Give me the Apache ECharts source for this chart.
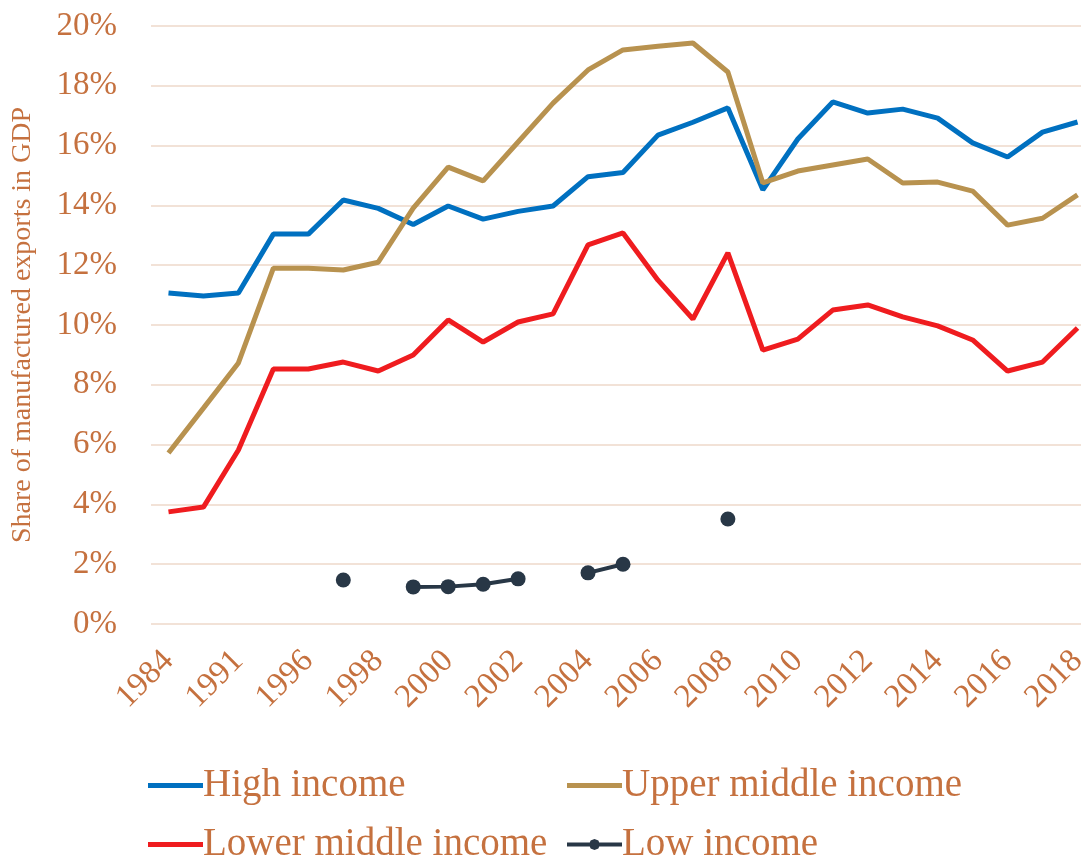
<!DOCTYPE html>
<html lang="en">

<head>
    <meta charset="UTF-8">
    <title>Manufactured exports share</title>
    <style>
        * {
            margin: 0;
        }

        html,
        body,
        #chart {
            width: 100%;
            height: 100%;
            background: #fff;
        }
    </style>
</head>

<body>
    <div id="chart"></div>
    <script src="https://cdn.jsdelivr.net/npm/echarts@6/dist/echarts.min.js"></script>
    <script>
        var years = ['1984', '1988', '1991', '1994', '1996', '1997', '1998', '1999', '2000', '2001', '2002', '2003',
            '2004', '2005', '2006', '2007', '2008', '2009', '2010', '2011', '2012', '2013', '2014', '2015',
            '2016', '2017', '2018'];
        var highIncome = [11.07, 10.97, 11.07, 13.04, 13.04, 14.18, 13.9, 13.36, 13.98, 13.54, 13.8, 13.98,
            14.96, 15.1, 16.35, 16.78, 17.26, 14.52, 16.22, 17.46, 17.09, 17.22, 16.92, 16.09,
            15.62, 16.45, 16.79];
        var upperMiddle = [5.72, 7.22, 8.73, 11.9, 11.9, 11.84, 12.1, 13.91, 15.28, 14.82, 16.12, 17.42,
            18.53, 19.2, 19.32, 19.43, 18.46, 14.75, 15.15, 15.35, 15.55, 14.75, 14.78, 14.48,
            13.34, 13.57, 14.35];
        var lowerMiddle = [3.75, 3.91, 5.82, 8.53, 8.53, 8.76, 8.46, 9.0, 10.17, 9.43, 10.1, 10.37,
            12.68, 13.08, 11.5, 10.2, 12.41, 9.16, 9.53, 10.5, 10.67, 10.27, 9.97, 9.5,
            8.46, 8.76, 9.9];
        var lowIncome = [null, null, null, null, null, 1.47, null, 1.24, 1.25, 1.33, 1.51, null,
            1.71, 2.0, null, null, 3.51, null, null, null, null, null, null, null,
            null, null, null];
        var yTicks = { min: 0, max: 20, step: 2 };

        var txt = '#C5713F';
        var font = "'Liberation Serif', 'DejaVu Serif', serif";
        var barIcon = 'path://M0,0h55v5h-55z';
        // line with a small dot in the middle (octagon, same winding as the bar)
        var dotIcon = 'path://M0,4h55v4h-55z M27.5,0.5L31.4,2.1L33,6L31.4,9.9L27.5,11.5L23.6,9.9L22,6L23.6,2.1z';
        var chart = echarts.init(document.getElementById('chart'));

        function lineSeries(name, data, color) {
            return {
                name: name,
                type: 'line',
                data: data,
                symbol: 'none',
                lineStyle: { color: color, width: 5 },
                itemStyle: { color: color }
            };
        }

        option = {
            animation: false,
            grid: { left: 151, width: 944, top: 26, height: 598, outerBoundsMode: 'none', containLabel: false },
            legend: {
                left: 143,
                top: 755,
                width: 900,
                itemWidth: 55,
                itemHeight: 14,
                itemGap: 8,
                textStyle: {
                    color: txt, fontFamily: font, fontSize: 39,
                    width: 356, overflow: 'none', lineHeight: 51, padding: [0, 0, 0, -5]
                },
                data: [
                    { name: 'High income', icon: barIcon },
                    { name: 'Upper middle income', icon: barIcon },
                    { name: 'Lower middle income', icon: barIcon },
                    { name: 'Low income', icon: dotIcon }
                ]
            },
            xAxis: {
                type: 'category',
                data: years,
                boundaryGap: true,
                axisLine: { show: false },
                axisTick: { show: false },
                axisLabel: {
                    interval: 1,
                    rotate: 45,
                    margin: 32,
                    color: txt,
                    fontFamily: font,
                    fontSize: 33
                }
            },
            yAxis: {
                type: 'value',
                min: yTicks.min,
                max: yTicks.max,
                interval: yTicks.step,
                name: 'Share of manufactured exports in GDP',
                nameLocation: 'middle',
                nameRotate: 90,
                nameGap: 114,
                nameTextStyle: { color: txt, fontFamily: font, fontSize: 28 },
                axisLabel: {
                    formatter: '{value}%',
                    margin: 34,
                    color: txt,
                    fontFamily: font,
                    fontSize: 33
                },
                splitLine: { lineStyle: { color: '#F2E2D7', width: 2 } }
            },
            series: [
                lineSeries('High income', highIncome, '#0070C0'),
                lineSeries('Upper middle income', upperMiddle, '#B8924F'),
                lineSeries('Lower middle income', lowerMiddle, '#EF1C1F'),
                {
                    name: 'Low income',
                    type: 'line',
                    data: lowIncome,
                    connectNulls: false,
                    symbol: 'circle',
                    symbolSize: 15,
                    showAllSymbol: true,
                    lineStyle: { color: '#283746', width: 4 },
                    itemStyle: { color: '#283746' }
                }
            ]
        };
        chart.setOption(option);
    </script>
</body>

</html>
